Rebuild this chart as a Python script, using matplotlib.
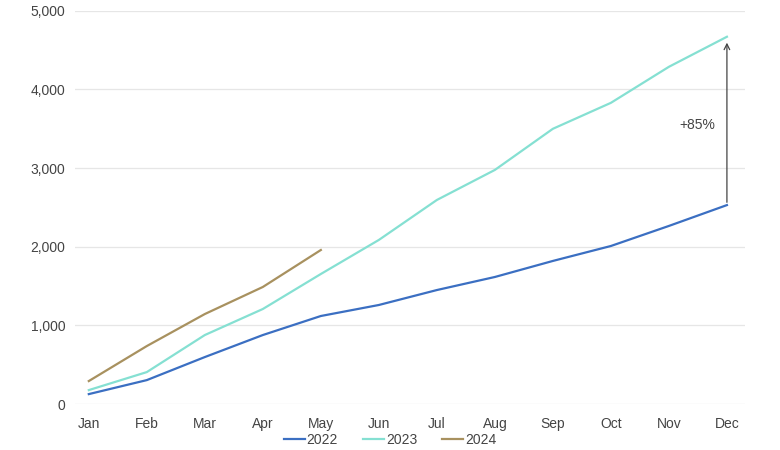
import matplotlib
matplotlib.use("Agg")
import matplotlib.pyplot as plt

plt.rcParams['font.family'] = ['Liberation Sans', 'DejaVu Sans']

# Data
months = ["Jan", "Feb", "Mar", "Apr", "May", "Jun", "Jul", "Aug", "Sep", "Oct", "Nov", "Dec"]
y2022 = [127, 305, 598, 878, 1120, 1260, 1450, 1616, 1820, 2010, 2265, 2530]
y2023 = [178, 407, 878, 1209, 1654, 2087, 2595, 2977, 3500, 3830, 4288, 4670]
y2024 = [293, 738, 1145, 1489, 1959]
growth_label = "+85%"

c22, c23, c24 = "#3b6fc2", "#85e0d2", "#a8915f"

fig = plt.figure(figsize=(7.8, 4.5), dpi=100)
ax = fig.add_axes([0.096, 0.102, 0.859, 0.874])

x = list(range(len(months)))
ax.plot(x, y2022, color=c22, lw=1.6, label="2022")
ax.plot(x, y2023, color=c23, lw=1.6, label="2023")
ax.plot(x[:len(y2024)], y2024, color=c24, lw=1.6, label="2024")

# growth arrow at Dec
ax.annotate("", xy=(11, y2023[-1] - 40), xytext=(11, y2022[-1]),
            arrowprops=dict(arrowstyle="->", color="#444444", lw=0.9))
ax.text(10.8, 3550, growth_label, ha="right", va="center", fontsize=10, color="#444444")

ax.set_xlim(-0.24, 11.31)
ax.set_ylim(0, 5000)
ax.set_xticks(x)
ax.set_xticklabels(months)
ax.set_yticks(range(0, 5001, 1000))
ax.set_yticklabels([f"{v:,}" for v in range(0, 5001, 1000)])
ax.grid(axis="y", color="#e6e6e6", lw=0.9)
ax.set_axisbelow(True)
for s in ax.spines.values():
    s.set_visible(False)
ax.tick_params(length=0, labelsize=10, colors="#444444", pad=7)
ax.tick_params(axis="x", pad=9)

fig.legend(loc="center", bbox_to_anchor=(0.5, 0.022), ncol=3, frameon=False,
           fontsize=10, handlelength=1.5, handletextpad=0.15, columnspacing=1.8,
           labelcolor="#444444")

fig.savefig("out.png", dpi=100)
